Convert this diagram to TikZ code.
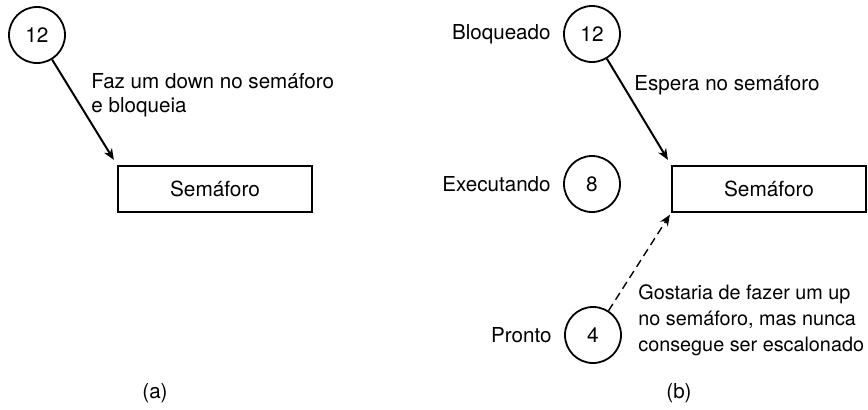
\documentclass[tikz,border=0pt]{standalone}
\usepackage{fontspec}
\setmainfont{TeX Gyre Heros}
\usetikzlibrary{arrows.meta}
\begin{document}
\begin{tikzpicture}[x=0.5pt,y=-0.5pt,
  proc/.style={circle,draw,line width=0.9pt,minimum size=28pt,inner sep=0pt,font=\fontsize{10.4pt}{12pt}\selectfont},
  sema/.style={draw,line width=1pt,minimum width=97pt,minimum height=23pt,inner sep=0pt,font=\fontsize{10.4pt}{12pt}\selectfont},
  lbl/.style={inner sep=0pt,font=\fontsize{10.3pt}{12pt}\selectfont},
  arr/.style={line width=1pt,-{Stealth[length=5.5pt,width=4.5pt,inset=1.6pt]}}]
\useasboundingbox (0,0) rectangle (868,409);
% (a)
\node[proc] (a12) at (37,35) {12};
\node[sema] (ra) at (215,189) {Semáforo};
\draw[arr] (a12) -- (ra.north west) [shorten >=3pt];
\node[lbl,anchor=west,align=left] (ta) at (91,95) {Faz um down no semáforo\\e bloqueia};
\node[lbl] (capa) at (155,393) {(a)};
% (b)
\node[proc] (b12) at (592,34) {12};
\node[proc] (b8) at (592,184) {8};
\node[proc] (b4) at (593,335) {4};
\node[lbl,anchor=east] (lb12) at (551,34) {Bloqueado};
\node[lbl,anchor=east] (lb8) at (551,184) {Executando};
\node[lbl,anchor=east] (lb4) at (552,335) {Pronto};
\node[sema] (rb) at (769,189) {Semáforo};
\draw[arr] (b12) -- (rb.north west) [shorten >=3pt];
\draw[arr,line width=0.7pt,dashed,dash pattern=on 4pt off 2.5pt] (b4) -- (rb.south west) [shorten >=1pt];
\node[lbl,anchor=west] (tb) at (634,85) {Espera no semáforo};
\node[lbl,anchor=west,align=left,font=\fontsize{9.9pt}{13pt}\selectfont] (tc) at (638,320) {Gostaria de fazer um up\\no semáforo, mas nunca\\consegue ser escalonado};
\node[lbl] (capb) at (679,393) {(b)};
\end{tikzpicture}
\end{document}
